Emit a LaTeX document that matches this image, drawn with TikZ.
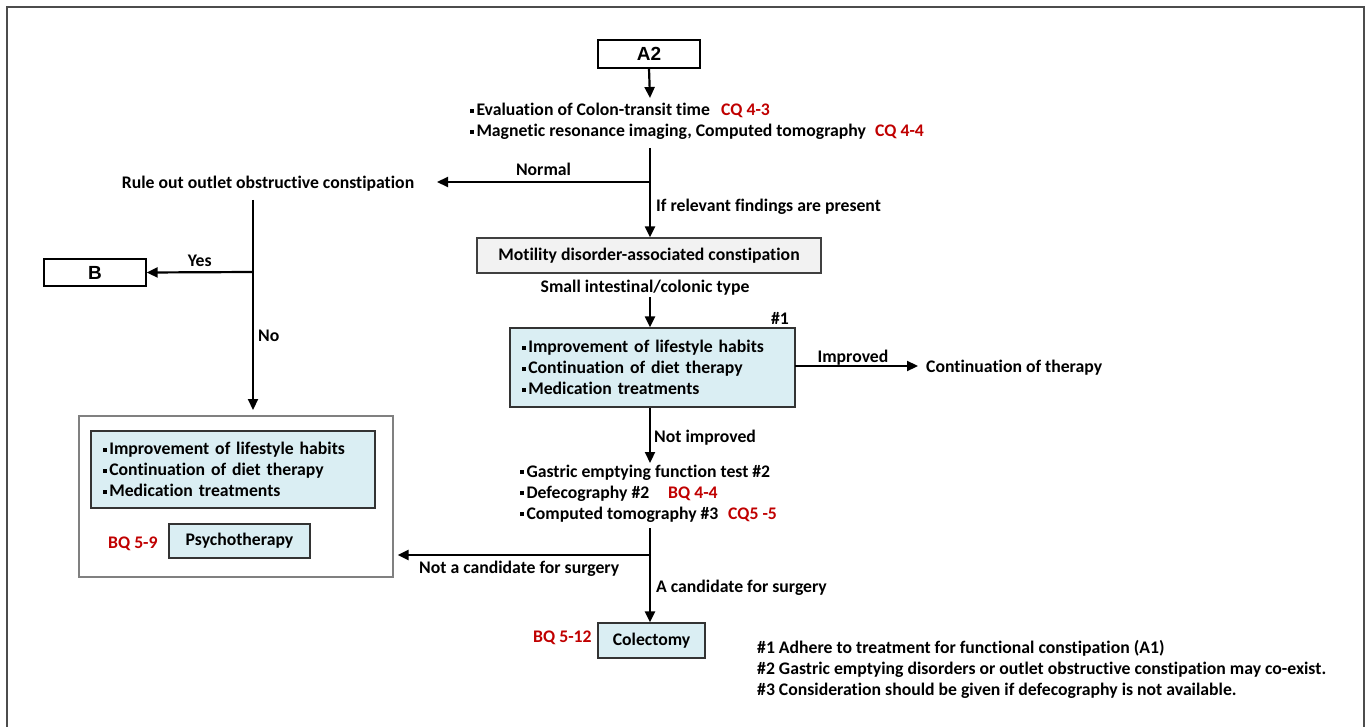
\documentclass[tikz,border=0pt]{standalone}
\usepackage{fontspec}
\setmainfont{Carlito}[Ligatures={NoCommon}]
\newfontfamily\headfont{Liberation Sans}
\usetikzlibrary{arrows.meta}
\definecolor{refred}{HTML}{C00000}
\definecolor{boxblue}{HTML}{DAEEF3}
\definecolor{boxgray}{HTML}{F2F2F2}
\newcommand{\bul}{\raisebox{0.35ex}{\rule{3.8pt}{3.8pt}}\hspace{2.5pt}}
\tikzset{
  mainfont/.style={font=\fontsize{17.7}{21}\selectfont\bfseries},
  txt/.style={inner sep=0pt, anchor=base west, mainfont},
  ctxt/.style={inner sep=0pt, anchor=base, mainfont},
  reftxt/.style={txt, text=refred},
  headbox/.style={draw, line width=1.3pt, inner sep=0pt, font=\headfont\bfseries\fontsize{19}{22}\selectfont},
  bluebox/.style={draw=black!80, line width=1.3pt, fill=boxblue, inner sep=0pt, mainfont},
  listbox/.style={bluebox, align=left, inner xsep=12pt},
  flow/.style={line width=2.2pt, -{Triangle[length=11pt,width=10pt]}},
  plain/.style={line width=2.2pt},
}
\begin{document}
\begin{tikzpicture}[x=1pt,y=-1pt]
\useasboundingbox (0,0) rectangle (1370,727);
% outer frame, open at the bottom
\draw[line width=2.2pt, black!70] (7,727) -- (7,7) -- (1364,7) -- (1364,727);

% --- boxes ---
\node[headbox, minimum width=102pt, minimum height=28pt] (A2) at (649,54) {A2};
\node[headbox, minimum width=102pt, minimum height=27pt] (B) at (95,272.5) {B};
\node[draw=black!75, line width=1.3pt, fill=boxgray, minimum width=344pt, minimum height=35pt, inner sep=0pt,
      mainfont] (mot) at (649,255.5) {Motility disorder-associated constipation};
\node[listbox, text width=261pt, minimum height=79pt] (tx1) at (652.5,367.5)
  {\bul Improvement of lifestyle habits\\\bul Continuation of diet therapy\\\bul Medication treatments};
\node[draw=black!50, line width=1.2pt, minimum width=314pt, minimum height=161pt, inner sep=0pt] (grp) at (236,496.5) {};
\node[listbox, text width=260pt, minimum height=77pt] (tx2) at (233,469.5)
  {\bul Improvement of lifestyle habits\\\bul Continuation of diet therapy\\\bul Medication treatments};
\node[bluebox, minimum width=141pt, minimum height=34pt] (psy) at (239.5,541) {Psychotherapy};
\node[bluebox, minimum width=107pt, minimum height=35pt] (col) at (651.5,640.5) {Colectomy};

% --- plain texts ---
\node[txt] (ev1) at (470,116) {\bul Evaluation of Colon-transit time};
\node[reftxt] (cq43) at (721,116) {CQ 4-3};
\node[txt] (ev2) at (470,137) {\bul Magnetic resonance imaging, Computed tomography};
\node[reftxt] (cq44) at (875,137) {CQ 4-4};
\node[ctxt] (rule) at (268,189) {Rule out outlet obstructive constipation};
\node[ctxt] (sit) at (645,292) {Small intestinal/colonic type};
\node[ctxt] (h1) at (780,324) {\#1};
\node[txt] (cont) at (926,372) {Continuation of therapy};
\node[txt] (ge1) at (520,477) {\bul Gastric emptying function test \#2};
\node[txt] (ge2) at (520,498) {\bul Defecography \#2};
\node[reftxt] (bq44) at (668,498) {BQ 4-4};
\node[txt] (ge3) at (520,519) {\bul Computed tomography \#3};
\node[reftxt] (cq55) at (728,519) {CQ5 -5};
\node[reftxt] (bq59) at (108,548) {BQ 5-9};
\node[reftxt] (bq512) at (533,642) {BQ 5-12};
\node[txt] (fn1) at (757,653) {\#1 Adhere to treatment for functional constipation (A1)};
\node[txt] (fn2) at (757,674) {\#2 Gastric emptying disorders or outlet obstructive constipation may co-exist.};
\node[txt] (fn3) at (757,695) {\#3 Consideration should be given if defecography is not available.};

% --- connector end points ---
\coordinate (a2end) at (650,98);
\coordinate (s1) at (650,148);
\coordinate (j1) at (650,182);
\coordinate (ruleend) at (437,182);
\coordinate (r1) at (253,200);
\coordinate (j2) at (253,272);
\coordinate (noend) at (253,410);
\coordinate (s2) at (650,297);
\coordinate (imp) at (795,366);
\coordinate (gend) at (650,463);
\coordinate (s3) at (650,528);
\coordinate (j3) at (650,555);

% --- connectors ---
\draw[flow] (A2.south) -- (a2end);
\draw[flow] (s1) -- (mot.north -| s1);
\draw[flow] (j1) -- node[ctxt, above=5pt] {Normal} (ruleend);
\draw[plain] (r1) -- (j2);
\draw[flow] (j2) -- node[ctxt, above=5pt] {Yes} (B.east);
\draw[flow] (j2) -- (noend);
\draw[flow] (s2) -- (tx1.north -| s2);
\draw[flow, shorten >=8pt] (imp) -- (cont.west |- imp);
\draw[flow] (tx1.south -| s2) -- (gend);
\draw[flow] (s3) -- (col.north -| s3);
\draw[flow, shorten >=4pt] (j3) -- (grp.east |- j3);

% --- connector labels ---
\node[txt] at (656,212) {If relevant findings are present};
\node[txt] at (258,341) {No};
\node[ctxt] at (853,362) {Improved};
\node[txt] at (654,442) {Not improved};
\node[txt] at (419,573) {Not a candidate for surgery};
\node[txt] at (656,592) {A candidate for surgery};
\end{tikzpicture}
\end{document}
